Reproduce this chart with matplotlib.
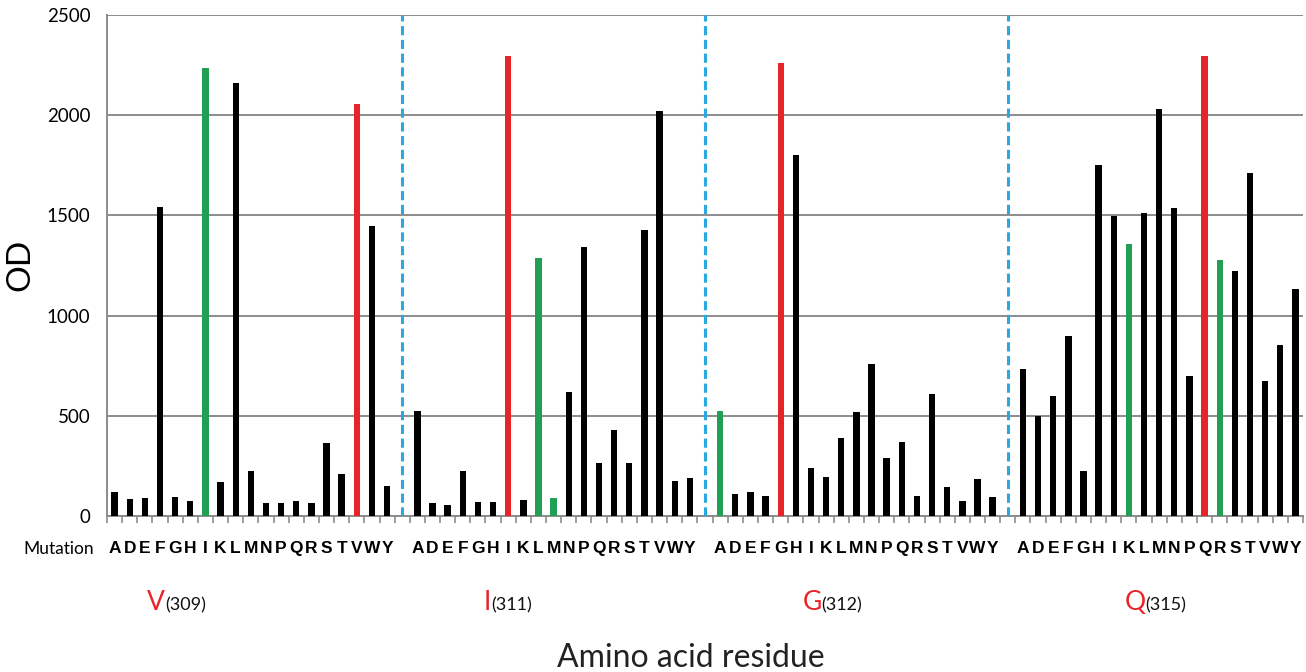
"""OD of single-residue mutants at four positions (V309, I311, G312, Q315)."""
import matplotlib
matplotlib.use("Agg")
import matplotlib.pyplot as plt
import matplotlib.transforms as mtransforms
import numpy as np

RESIDUES = ["A", "D", "E", "F", "G", "H", "I", "K", "L", "M",
            "N", "P", "Q", "R", "S", "T", "V", "W", "Y"]

SITES = ["V", "I", "G", "Q"]
SITE_NUMBERS = ["(309)", "(311)", "(312)", "(315)"]

OD_V309 = [119, 86, 89, 1541, 94, 77, 2236, 169, 2161, 226,
           66, 66, 75, 66, 362, 210, 2058, 1449, 148]
OD_I311 = [526, 66, 53, 223, 69, 68, 2293, 80, 1287, 89,
           620, 1340, 262, 428, 262, 1425, 2022, 173, 191]
OD_G312 = [524, 110, 121, 102, 2258, 1803, 242, 194, 387, 520,
           759, 287, 371, 98, 609, 146, 77, 187, 93]
OD_Q315 = [732, 499, 599, 900, 223, 1752, 1499, 1358, 1513, 2031,
           1536, 699, 2295, 1276, 1224, 1712, 675, 852, 1132]

# mutants shown in green in the original figure
GREEN = [["I"], ["L", "M"], ["A"], ["K", "R"]]

BLACK = "#000000"
RED = "#e8232a"
GREEN_C = "#1fa055"
BLUE = "#2aa8df"
GRID = "#8c8c8c"

plt.rcParams.update({
    "font.family": ["Lato", "DejaVu Sans"],
})

W, H = 1306, 672


def fx(px):
    return px / W


def fy(py):
    return 1 - py / H


fig = plt.figure(figsize=(W / 100, H / 100), dpi=100)
ax = fig.add_axes([fx(107), fy(516), fx(1303) - fx(107), fy(15) - fy(516)])

groups = [OD_V309, OD_I311, OD_G312, OD_Q315]
n = len(RESIDUES)
xs, heights, colors = [], [], []
gap_pos = []
for g, (vals, site, greens) in enumerate(zip(groups, SITES, GREEN)):
    start = g * (n + 1)
    for i, (res, v) in enumerate(zip(RESIDUES, vals)):
        xs.append(start + i)
        heights.append(v)
        if res == site:
            colors.append(RED)
        elif res in greens:
            colors.append(GREEN_C)
        else:
            colors.append(BLACK)
    if g < len(groups) - 1:
        gap_pos.append(start + n)

total = len(groups) * (n + 1) - 1
ax.bar(xs, heights, width=0.42, color=colors, zorder=3)

for gx in gap_pos:
    ax.axvline(gx, color=BLUE, ls=(0, (3, 1.5)), lw=2.2, zorder=4)

ax.set_xlim(-0.5, total - 0.5)
ax.set_ylim(0, 2500)
ax.set_yticks(np.arange(0, 2501, 500))
ax.yaxis.grid(True, color=GRID, lw=1.4, zorder=0)
ax.tick_params(axis="y", length=0, pad=12, labelsize=13.5)

tick_lbls = []
for g in range(len(groups)):
    tick_lbls += RESIDUES + ([""] if g < len(groups) - 1 else [])
ax.set_xticks(np.arange(total))
ax.set_xticklabels(tick_lbls, fontfamily="Liberation Sans", fontweight="bold",
                   fontsize=12.5)
ax.tick_params(axis="x", which="major", length=0, pad=18)
ax.set_xticks(np.arange(total + 1) - 0.5, minor=True)
ax.tick_params(axis="x", which="minor", length=5, width=1.2, color=GRID,
               direction="out")

for side in ("top", "right"):
    ax.spines[side].set_visible(False)
for side in ("left", "bottom"):
    ax.spines[side].set_color(GRID)
    ax.spines[side].set_linewidth(1.4)

fig.text(fx(20), fy(265), "OD", rotation=90, fontsize=24,
         ha="center", va="center")
fig.text(fx(94), fy(549), "Mutation", fontsize=12.5, ha="right", va="center")

# x in data units, y in figure fraction
lbl_tr = mtransforms.blended_transform_factory(ax.transData, fig.transFigure)
label_x = [3.35, 24.85, 46.7, 68.1]
for lx, site, num in zip(label_x, SITES, SITE_NUMBERS):
    ax.text(lx, fy(610), site, color=RED, fontsize=19, ha="right",
            va="baseline", transform=lbl_tr, clip_on=False)
    ax.text(lx, fy(610), num, color="#111111", fontsize=13, ha="left",
            va="baseline", transform=lbl_tr, clip_on=False)

fig.text(fx(691), fy(658), "Amino acid residue", fontsize=23,
         ha="center", va="center", color="#222222")

fig.savefig("out.png", dpi=100)
